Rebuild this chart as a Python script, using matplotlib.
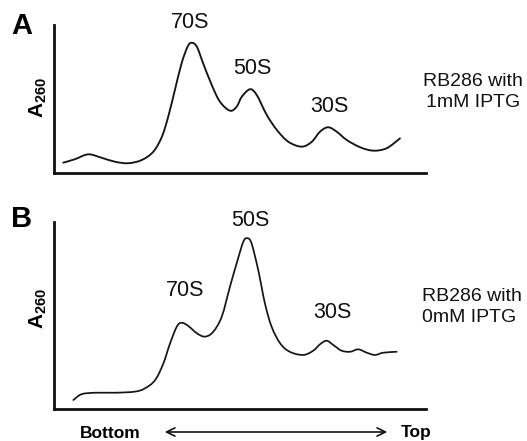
import matplotlib
matplotlib.use("Agg")
import numpy as np
import matplotlib.pyplot as plt
from matplotlib.patches import FancyArrowPatch, PathPatch
from matplotlib.path import Path

plt.rcParams['font.family'] = ['Liberation Sans', 'DejaVu Sans']
plt.rcParams['mathtext.fontset'] = 'custom'
plt.rcParams['mathtext.rm'] = 'Liberation Sans'
plt.rcParams['mathtext.bf'] = 'Liberation Sans:bold'

# ---- data (position along gradient, % ; A260 in arbitrary units) ----
pos_a = [2.5, 5.6, 9.2, 12.8, 16.4, 20.0, 23.6, 26.7, 29.0, 30.7, 32.5, 34.3,
         35.9, 37.0, 38.4, 40.1, 42.4, 44.6, 47.3, 49.1, 50.5, 52.7, 54.5,
         57.2, 59.9, 63.0, 66.6, 69.3, 71.5, 73.7, 76.0, 78.7, 82.3, 85.8,
         89.4, 93.0]
abs_a = [7.0, 9.3, 12.6, 10.3, 7.6, 6.6, 8.8, 14.4, 24.5, 38.0, 56.1, 74.1,
         85.3, 88.0, 85.3, 74.1, 59.5, 48.2, 42.1, 44.8, 51.6, 56.6, 52.7,
         39.2, 29.1, 21.1, 17.8, 21.1, 27.9, 30.9, 27.9, 22.3, 17.4, 15.1,
         16.7, 23.4]

pos_b = [5.2, 7.4, 11.0, 16.4, 21.8, 24.5, 27.2, 29.4, 31.2, 33.0, 34.3,
         36.1, 38.4, 40.6, 42.8, 45.1, 47.3, 49.1, 50.9, 52.0, 53.1, 54.9,
         56.7, 58.5, 60.8, 63.4, 67.0, 69.7, 71.5, 73.3, 75.1, 77.3, 79.6,
         81.8, 84.1, 86.3, 88.5, 92.1]
abs_b = [4.8, 7.9, 8.7, 8.7, 9.3, 11.1, 15.5, 24.4, 35.1, 44.0, 46.1, 44.4,
         40.5, 38.7, 41.3, 49.4, 65.4, 77.9, 89.5, 91.3, 88.6, 74.3, 56.5,
         44.0, 35.1, 30.6, 28.9, 31.2, 34.6, 36.5, 34.2, 31.2, 30.6, 31.9,
         30.1, 28.9, 30.1, 30.6]

peaks_a = ["70S", "50S", "30S"]
peaks_b = ["70S", "50S", "30S"]
conditions = ["RB286 with\n1mM IPTG", "RB286 with\n0mM IPTG"]
panel_letters = ["A", "B"]

W, H = 527, 441
fig = plt.figure(figsize=(W / 100, H / 100), dpi=100)
fig.patch.set_facecolor("white")


def fx(px):
    return px / W


def fy(py):
    return 1 - py / H


def make_ax(left, top, right, bottom):
    ax = fig.add_axes([fx(left), fy(bottom), (right - left) / W, (bottom - top) / H])
    for s in ("top", "right"):
        ax.spines[s].set_visible(False)
    for s in ("left", "bottom"):
        ax.spines[s].set_linewidth(2.0)
        ax.spines[s].set_color("#111111")
    ax.set_xticks([])
    ax.set_yticks([])
    ax.set_xlim(0, 100)
    ax.set_ylim(0, 100)
    return ax


def smooth_trace(ax, xs, ys, **kw):
    """Draw a smooth curve through the given points (Catmull-Rom -> Bezier)."""
    p = np.column_stack([xs, ys]).astype(float)
    n = len(p)
    verts = [tuple(p[0])]
    codes = [Path.MOVETO]
    for i in range(n - 1):
        p0 = p[i - 1] if i > 0 else p[i]
        p1 = p[i]
        p2 = p[i + 1]
        p3 = p[i + 2] if i + 2 < n else p[i + 1]
        c1 = p1 + (p2 - p0) / 6.0
        c2 = p2 - (p3 - p1) / 6.0
        verts += [tuple(c1), tuple(c2), tuple(p2)]
        codes += [Path.CURVE4] * 3
    patch = PathPatch(Path(verts, codes), facecolor="none", transform=ax.transData,
                      capstyle="round", joinstyle="round", **kw)
    ax.add_patch(patch)


ax_a = make_ax(54, 25, 426, 173)
ax_b = make_ax(54, 222, 426, 409)

smooth_trace(ax_a, pos_a, abs_a, edgecolor="#151515", lw=1.35)
smooth_trace(ax_b, pos_b, abs_b, edgecolor="#151515", lw=1.25)

ylab = r"$\mathbf{A}_{\mathbf{260}}$"
fig.text(fx(38), fy(97), ylab, rotation=90, ha="center", va="center", fontsize=15)
fig.text(fx(38), fy(308), ylab, rotation=90, ha="center", va="center", fontsize=15)

fig.text(fx(22), fy(26), panel_letters[0], fontsize=21, fontweight="bold", ha="center", va="center")
fig.text(fx(22), fy(219), panel_letters[1], fontsize=21, fontweight="bold", ha="center", va="center")

pk = dict(fontsize=15.5, ha="center", va="center", color="#111111")
fig.text(fx(190), fy(23), peaks_a[0], **pk)
fig.text(fx(252), fy(68), peaks_a[1], **pk)
fig.text(fx(329), fy(106), peaks_a[2], **pk)
fig.text(fx(185), fy(290), peaks_b[0], **pk)
fig.text(fx(250), fy(220), peaks_b[1], **pk)
fig.text(fx(332), fy(312), peaks_b[2], **pk)

fig.text(fx(473), fy(92), conditions[0], fontsize=14, ha="center", va="center",
         multialignment="center", linespacing=1.35, color="#111111")
fig.text(fx(422), fy(307), conditions[1], fontsize=14, ha="left", va="center",
         multialignment="left", linespacing=1.3, color="#111111")

fig.text(fx(110), fy(433), "Bottom", fontsize=12.5, fontweight="bold", ha="center", va="center")
fig.text(fx(416), fy(433), "Top", fontsize=12.5, fontweight="bold", ha="center", va="center")
arrow = FancyArrowPatch((fx(162), fy(432)), (fx(390), fy(432)), transform=fig.transFigure,
                        arrowstyle="<->,head_length=6,head_width=3", lw=1.2, color="#111111")
fig.patches.append(arrow)

fig.savefig("out.png", dpi=100)
